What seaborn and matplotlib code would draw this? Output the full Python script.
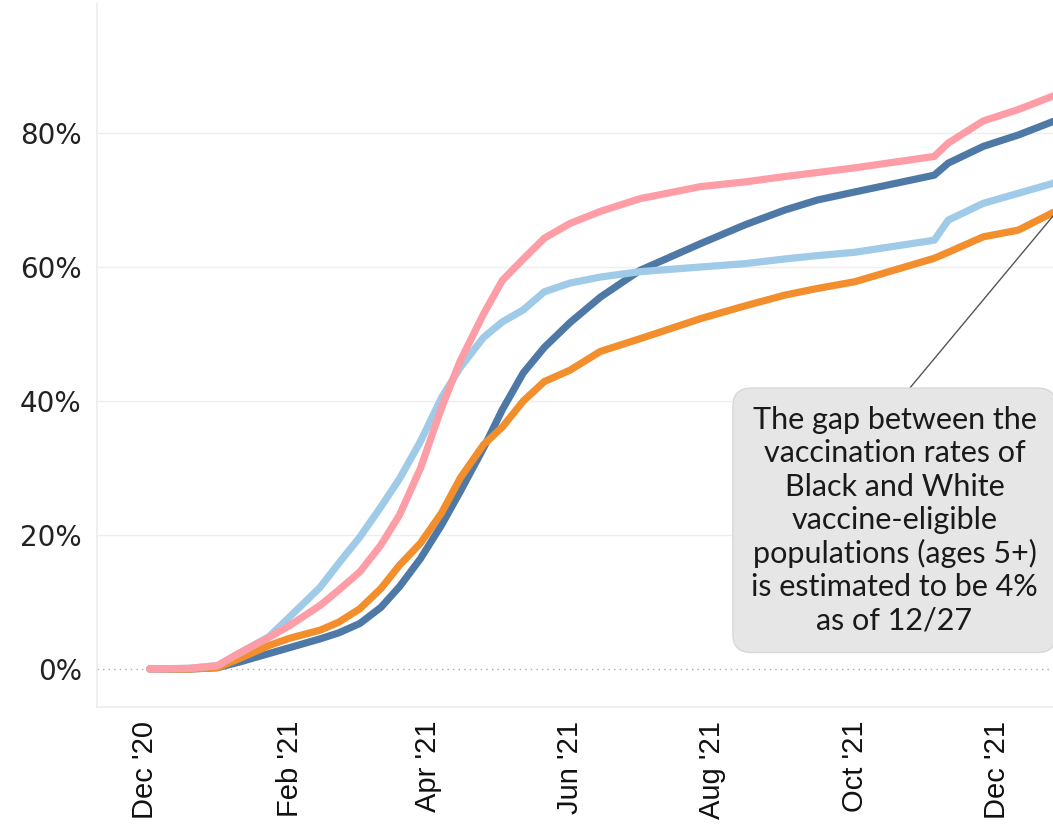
import pandas as pd
import numpy as np
import matplotlib
matplotlib.use("Agg")
import matplotlib.pyplot as plt
import matplotlib.dates as mdates
from matplotlib.ticker import PercentFormatter
import seaborn as sns

# --- DATA ---
DATES = ["2020-12-03", "2020-12-20", "2021-01-01", "2021-01-10", "2021-01-23",
         "2021-02-01", "2021-02-14", "2021-02-22", "2021-03-03", "2021-03-12",
         "2021-03-20", "2021-03-29", "2021-04-07", "2021-04-15", "2021-04-25",
         "2021-05-03", "2021-05-12", "2021-05-21", "2021-06-01", "2021-06-14",
         "2021-07-01", "2021-07-27", "2021-08-15", "2021-09-01", "2021-09-15",
         "2021-10-01", "2021-11-04", "2021-11-10", "2021-11-25", "2021-12-10",
         "2021-12-27"]

ASIAN = [0, 0.1, 0.5, 2.3, 4.7, 6.5, 9.5, 11.8, 14.5, 18.5, 23, 30, 39, 46, 53,
         58, 61.2, 64.3, 66.5, 68.3, 70.2, 72, 72.7, 73.5, 74.1, 74.8, 76.5,
         78.5, 81.8, 83.5, 85.8]
HISPANIC = [0, 0, 0.2, 1.0, 2.3, 3.2, 4.5, 5.4, 6.8, 9.2, 12.3, 16.5, 21.5, 26.5, 33,
            38.7, 44.2, 48, 51.7, 55.5, 59.5, 63.5, 66.3, 68.5, 70, 71.2, 73.7,
            75.5, 78, 79.7, 82]
BLACK = [0, 0.1, 0.5, 2.3, 4.8, 7.8, 12.2, 15.8, 19.7, 24.2, 28.4, 34, 40.5, 45, 49.5,
         51.8, 53.6, 56.3, 57.6, 58.5, 59.3, 60, 60.5, 61.2, 61.7, 62.2, 64,
         67, 69.5, 71, 72.7]
WHITE = [0, 0, 0.2, 1.5, 3.5, 4.6, 5.8, 7.0, 9.0, 12.0, 15.5, 18.8, 23.3, 28.5, 33.5,
         36.1, 40, 42.9, 44.6, 47.4, 49.3, 52.3, 54.2, 55.8, 56.8, 57.8, 61.3,
         62.2, 64.5, 65.5, 68.5]

GROUPS = ["Hispanic", "White", "Black", "Asian"]
COLORS = {"Asian": "#ff9da7", "Hispanic": "#4e79a7", "Black": "#a0cbe8", "White": "#f28e2b"}
Y_TICKS = [0, 20, 40, 60, 80]

NOTE = ("The gap between the\nvaccination rates of\nBlack and White\n"
        "vaccine-eligible\npopulations (ages 5+)\nis estimated to be 4%\nas of 12/27")


def build_frame():
    series = {"Asian": ASIAN, "Hispanic": HISPANIC, "Black": BLACK, "White": WHITE}
    rows = []
    for g in GROUPS:
        rows.append(pd.DataFrame({"date": pd.to_datetime(DATES), "value": series[g], "group": g}))
    return pd.concat(rows, ignore_index=True)


df = build_frame()

sns.set_style("white")
plt.rcParams["font.family"] = ["DejaVu Sans"]

fig = plt.figure(figsize=(10.53, 8.24), dpi=100)
ax = fig.add_axes([97 / 1053, 117 / 824, (1058 - 97) / 1053, 703 / 824])

sns.lineplot(data=df, x="date", y="value", hue="group", hue_order=GROUPS,
             palette=COLORS, linewidth=5.2, legend=False, ax=ax,
             solid_capstyle="round", solid_joinstyle="round", zorder=3)

ax.set_xlim(pd.Timestamp("2020-11-10 10:00"), pd.Timestamp("2021-12-27"))
ax.set_ylim(-5.67, 99.25)

# axes styling
ax.set_xlabel("")
ax.set_ylabel("")
for side in ["top", "right"]:
    ax.spines[side].set_visible(False)
for side in ["left", "bottom"]:
    ax.spines[side].set_color("#ececec")
    ax.spines[side].set_linewidth(1.2)

ax.set_yticks(Y_TICKS)
ax.yaxis.set_major_formatter(PercentFormatter(xmax=100, decimals=0))
ax.tick_params(axis="y", length=7, color="#eeeeee", labelsize=20, labelcolor="#222222", pad=4)
ax.grid(axis="y", color="#eeeeee", lw=1)
gl = ax.yaxis.get_gridlines()
gl[0].set_linestyle((0, (1, 3)))
gl[0].set_color("#aaaaaa")

ax.xaxis.set_major_locator(mdates.MonthLocator(bymonth=[2, 4, 6, 8, 10, 12]))
ax.xaxis.set_minor_locator(mdates.MonthLocator(bymonth=[1, 3, 5, 7, 9, 11]))
ax.xaxis.set_major_formatter(mdates.DateFormatter("%b '%y"))
ax.tick_params(axis="x", which="major", length=7, color="#e0e0e0", labelsize=21,
               labelcolor="#111111", pad=3, labelrotation=90)
ax.tick_params(axis="x", which="minor", length=3.5, color="#e0e0e0")
for lbl in ax.get_xticklabels():
    lbl.set_fontfamily("Liberation Sans")

# annotation box
ax.annotate(NOTE, xy=(mdates.date2num(pd.Timestamp("2021-12-27")), 68.5),
            xytext=(mdates.date2num(pd.Timestamp("2021-10-18")), 22.2),
            textcoords="data", ha="center", va="center", fontsize=22,
            family="Lato", color="#1a1a1a", linespacing=1.22, zorder=5,
            bbox=dict(boxstyle="round,pad=0.6,rounding_size=0.6",
                      fc="#e6e6e6", ec="#d8d8d8", lw=1),
            arrowprops=dict(arrowstyle="-", color="#555555", lw=1,
                            relpos=(0.5, 1.0), shrinkA=0, shrinkB=0),
            annotation_clip=False)

fig.savefig("out.png", dpi=100)
